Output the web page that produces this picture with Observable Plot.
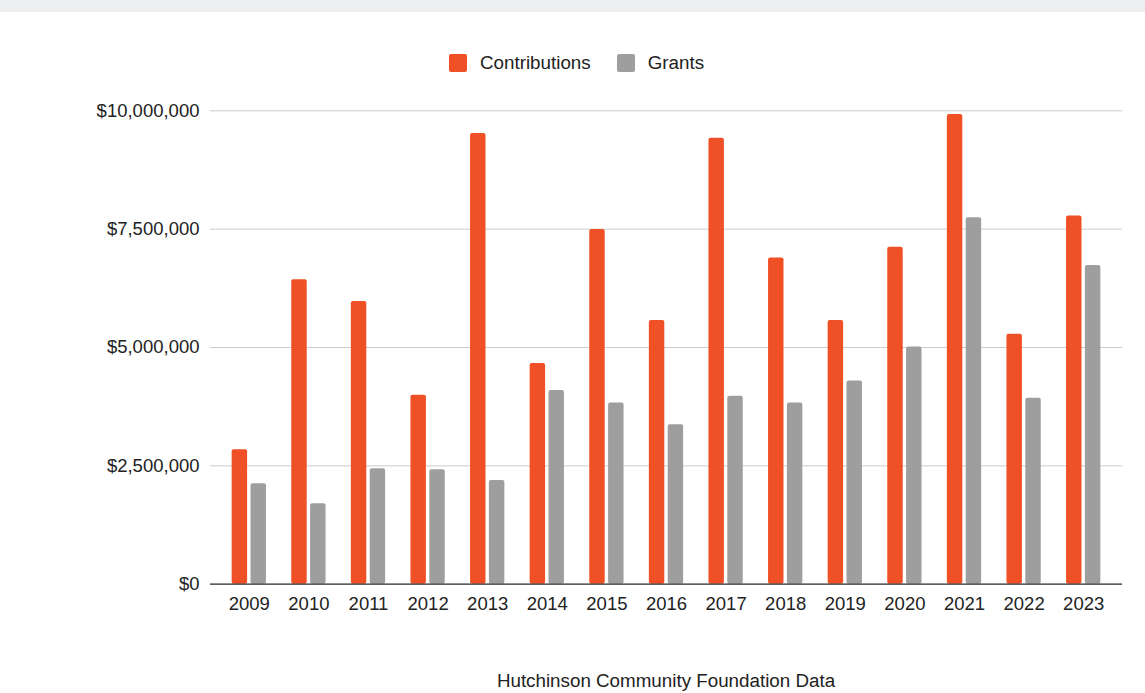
<!DOCTYPE html>
<html>
<head>
<meta charset="utf-8">
<script src="https://cdn.jsdelivr.net/npm/d3@7"></script>
<script src="https://cdn.jsdelivr.net/npm/@observablehq/plot@0.6"></script>
<style>
  html, body { margin: 0; padding: 0; background: #fff; }
  body { width: 1145px; height: 693px; position: relative; overflow: hidden;
         font-family: Arial, "Liberation Sans", sans-serif; color: #222; }
  #topbar { position: absolute; left: 0; top: 0; width: 1145px; height: 12px; background: #edeef0; }
  #legend { position: absolute; left: 449px; top: 53px; height: 19px; display: flex; align-items: center;
            font-size: 18.8px; color: #222; }
  .sw { width: 18px; height: 18px; border-radius: 2px; margin-right: 13px; }
  .item { display: flex; align-items: center; margin-right: 26px; }
  #chart { position: absolute; left: 0; top: 12px; }
  #caption { position: absolute; left: 210px; width: 912px; top: 671px; text-align: center;
             font-size: 18.8px; line-height: 20px; color: #222; }
</style>
</head>
<body>
<div id="topbar"></div>
<div id="legend"></div>
<div id="chart"></div>
<div id="caption"></div>
<script>
const years = ["2009","2010","2011","2012","2013","2014","2015","2016","2017","2018","2019","2020","2021","2022","2023"];
const contributions = [2840000, 6430000, 5970000, 3990000, 9520000, 4660000, 7490000, 5570000, 9420000, 6890000, 5570000, 7120000, 9920000, 5280000, 7780000];
const grants = [2120000, 1700000, 2440000, 2420000, 2190000, 4090000, 3830000, 3370000, 3970000, 3830000, 4290000, 5010000, 7740000, 3930000, 6730000];
const seriesNames = ["Contributions", "Grants"];
const seriesColors = ["#f05025", "#9e9e9e"];
const yTicks = [0, 2500000, 5000000, 7500000, 10000000];
const captionText = "Hutchinson Community Foundation Data";

const data = [];
years.forEach((y, i) => {
  data.push({year: y, series: seriesNames[0], value: contributions[i]});
  data.push({year: y, series: seriesNames[1], value: grants[i]});
});

// Legend
const legend = document.getElementById("legend");
seriesNames.forEach((name, i) => {
  const item = document.createElement("div");
  item.className = "item";
  const sw = document.createElement("div");
  sw.className = "sw";
  sw.style.background = seriesColors[i];
  const label = document.createElement("span");
  label.textContent = name;
  item.appendChild(sw);
  item.appendChild(label);
  legend.appendChild(item);
});
document.getElementById("caption").textContent = captionText;

const groupPad = 0.4245;
const barInset = 18.85;

const chart = Plot.plot({
  width: 1145,
  height: 610,
  marginLeft: 210,
  marginRight: 23,
  marginTop: 98.3,
  marginBottom: 38.3,
  style: { fontFamily: "Arial, 'Liberation Sans', sans-serif", fontSize: "18.5px", color: "#222", background: "transparent" },
  x: { domain: years, paddingInner: groupPad, paddingOuter: groupPad / 2, inset: 9, round: false, label: null },
  y: { domain: [0, 10000000], label: null },
  color: { domain: seriesNames, range: seriesColors },
  marks: [
    Plot.gridY(yTicks, { stroke: "#cccccc", strokeOpacity: 1, strokeWidth: 1 }),
    Plot.barY(data.filter(d => d.series === seriesNames[0]), {
      x: "year", y: "value", fill: "series", insetRight: barInset, rx: 2
    }),
    Plot.barY(data.filter(d => d.series === seriesNames[1]), {
      x: "year", y: "value", fill: "series", insetLeft: barInset, rx: 2
    }),
    Plot.ruleY([0], { stroke: "#333", strokeWidth: 1.3 }),
    Plot.axisY({ ticks: yTicks, tickFormat: d3.format("$,"), tickSize: 0, tickPadding: 11, label: null }),
    Plot.axisX({ tickSize: 0, tickPadding: 13, label: null })
  ]
});
document.getElementById("chart").appendChild(chart);
</script>
</body>
</html>
